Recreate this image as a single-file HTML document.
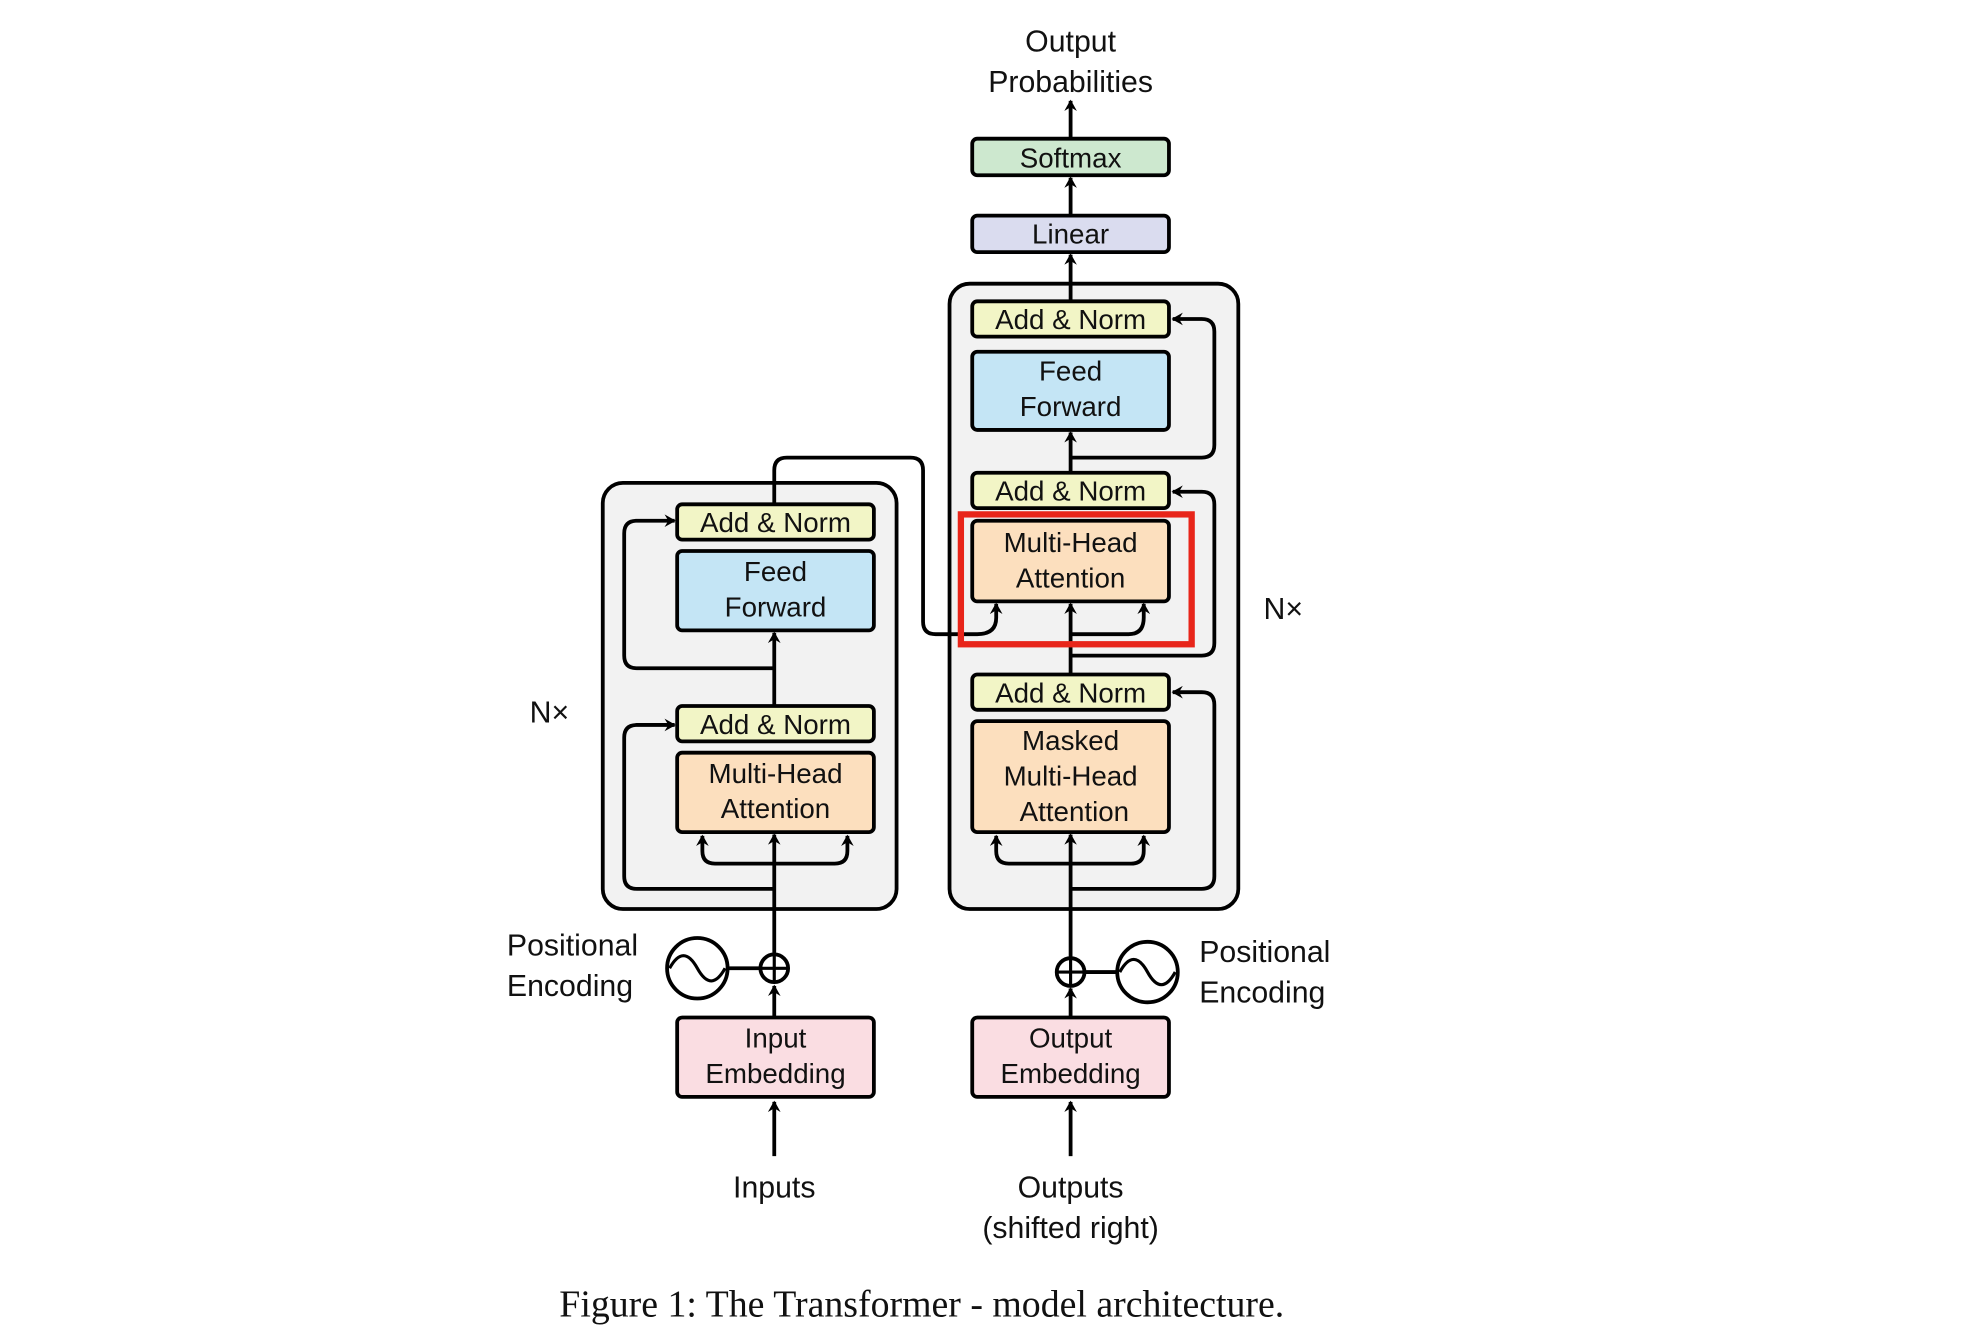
<!DOCTYPE html>
<html><head><meta charset="utf-8"><style>
html,body{margin:0;padding:0;background:#fff;}
svg{display:block}
text{font-family:"Liberation Sans",sans-serif;fill:#111;}
</style></head><body>
<svg width="1976" height="1344" viewBox="0 0 1567 1066" preserveAspectRatio="none" xmlns="http://www.w3.org/2000/svg">
<defs>
<marker id="a" markerWidth="10" markerHeight="10" refX="8" refY="5" orient="auto" markerUnits="userSpaceOnUse">
<path d="M0,0 L9,5 L0,10 L3,5 Z" fill="#000"/>
</marker>
</defs>
<rect x="478" y="383" width="233" height="338" rx="16" fill="#f2f2f2" stroke="#000" stroke-width="3"/>
<rect x="753" y="225" width="229" height="496" rx="16" fill="#f2f2f2" stroke="#000" stroke-width="3"/>

<g fill="none" stroke="#000" stroke-width="3">
<line x1="614" y1="917" x2="614" y2="874" marker-end="url(#a)"/>
<line x1="614" y1="807" x2="614" y2="782" marker-end="url(#a)"/>
<line x1="614" y1="757" x2="614" y2="662" marker-end="url(#a)"/>
<path d="M614,685 H567 Q557,685 557,675 V663" marker-end="url(#a)"/>
<path d="M614,685 H662 Q672,685 672,675 V663" marker-end="url(#a)"/>
<path d="M614,705 H505 Q495,705 495,695 V585 Q495,575 505,575 H535" marker-end="url(#a)"/>
<line x1="614" y1="560" x2="614" y2="502" marker-end="url(#a)"/>
<path d="M614,530 H505 Q495,530 495,520 V423 Q495,413 505,413 H535" marker-end="url(#a)"/>
<path d="M614,400 V373 Q614,363 624,363 H722 Q732,363 732,373 V493 Q732,503 742,503 H775 Q790,503 790,490 V479" marker-end="url(#a)"/>
<line x1="849" y1="917" x2="849" y2="874" marker-end="url(#a)"/>
<line x1="849" y1="807" x2="849" y2="784" marker-end="url(#a)"/>
<line x1="849" y1="760" x2="849" y2="662" marker-end="url(#a)"/>
<path d="M849,685 H800 Q790,685 790,675 V663" marker-end="url(#a)"/>
<path d="M849,685 H897 Q907,685 907,675 V663" marker-end="url(#a)"/>
<path d="M849,705 H953 Q963,705 963,695 V559 Q963,549 953,549 H930" marker-end="url(#a)"/>
<line x1="849" y1="535" x2="849" y2="479" marker-end="url(#a)"/>
<path d="M849,503 H895 Q907,503 907,490 V479" marker-end="url(#a)"/>
<path d="M849,520 H953 Q963,520 963,510 V400 Q963,390 953,390 H930" marker-end="url(#a)"/>
<line x1="849" y1="375" x2="849" y2="343" marker-end="url(#a)"/>
<path d="M849,363 H953 Q963,363 963,353 V263 Q963,253 953,253 H930" marker-end="url(#a)"/>
<line x1="849" y1="239" x2="849" y2="202" marker-end="url(#a)"/>
<line x1="849" y1="171" x2="849" y2="141" marker-end="url(#a)"/>
<line x1="849" y1="110" x2="849" y2="80" marker-end="url(#a)"/>
<line x1="577" y1="768" x2="603" y2="768"/>
<line x1="860" y1="771" x2="886" y2="771"/>
</g>

<g stroke="#000" stroke-width="3">
<rect x="537" y="400" width="156" height="28" rx="4" fill="#f2f5c6"/>
<rect x="537" y="437" width="156" height="63" rx="4" fill="#c4e5f5"/>
<rect x="537" y="560" width="156" height="28" rx="4" fill="#f2f5c6"/>
<rect x="537" y="597" width="156" height="63" rx="4" fill="#fcdfbe"/>
<rect x="537" y="807" width="156" height="63" rx="4" fill="#fadde2"/>
<rect x="771" y="110" width="156" height="29" rx="4" fill="#cde8cf"/>
<rect x="771" y="171" width="156" height="29" rx="4" fill="#dadcef"/>
<rect x="771" y="239" width="156" height="28" rx="4" fill="#f2f5c6"/>
<rect x="771" y="279" width="156" height="62" rx="4" fill="#c4e5f5"/>
<rect x="771" y="375" width="156" height="28" rx="4" fill="#f2f5c6"/>
<rect x="771" y="413" width="156" height="64" rx="4" fill="#fcdfbe"/>
<rect x="771" y="535" width="156" height="28" rx="4" fill="#f2f5c6"/>
<rect x="771" y="572" width="156" height="88" rx="4" fill="#fcdfbe"/>
<rect x="771" y="807" width="156" height="63" rx="4" fill="#fadde2"/>
<circle cx="614" cy="768" r="11" fill="#fff"/>
<circle cx="849" cy="771" r="11" fill="#fff"/>
<circle cx="553" cy="768" r="24" fill="#fff"/>
<circle cx="910" cy="771" r="24" fill="#fff"/>
</g>
<g stroke="#000" stroke-width="2.5" fill="none">
<path d="M603,768 H625 M614,757 V779"/>
<path d="M838,771 H860 M849,760 V782"/>
<path d="M531,768 Q542,748 553,768 T575,768"/>
<path d="M888,771 Q899,751 910,771 T932,771"/>
</g>
<rect x="762" y="408" width="183" height="103" fill="none" stroke="#e8251a" stroke-width="5"/>

<g font-size="22" text-anchor="middle">
<text x="615" y="422">Add &amp; Norm</text>
<text x="615" y="461">Feed</text><text x="615" y="489">Forward</text>
<text x="615" y="582">Add &amp; Norm</text>
<text x="615" y="621">Multi-Head</text><text x="615" y="649">Attention</text>
<text x="615" y="831">Input</text><text x="615" y="859">Embedding</text>
<text x="849" y="133">Softmax</text>
<text x="849" y="193">Linear</text>
<text x="849" y="261">Add &amp; Norm</text>
<text x="849" y="302">Feed</text><text x="849" y="330">Forward</text>
<text x="849" y="397">Add &amp; Norm</text>
<text x="849" y="438">Multi-Head</text><text x="849" y="466">Attention</text>
<text x="849" y="557">Add &amp; Norm</text>
<text x="849" y="595">Masked</text><text x="849" y="623">Multi-Head</text><text x="852" y="651">Attention</text>
<text x="849" y="831">Output</text><text x="849" y="859">Embedding</text>
</g>
<g font-size="24">
<text x="849" y="41" text-anchor="middle">Output</text>
<text x="849" y="73" text-anchor="middle">Probabilities</text>
<text x="614" y="950" text-anchor="middle">Inputs</text>
<text x="849" y="950" text-anchor="middle">Outputs</text>
<text x="849" y="982" text-anchor="middle">(shifted right)</text>
<text x="402" y="758">Positional</text>
<text x="402" y="790">Encoding</text>
<text x="951" y="763">Positional</text>
<text x="951" y="795">Encoding</text>
<text x="420" y="573">N×</text>
<text x="1002" y="491">N×</text>
</g>
<text x="731" y="1044" text-anchor="middle" font-size="30" style="font-family:'Liberation Serif',serif">Figure 1: The Transformer - model architecture.</text>
</svg>
</body></html>
